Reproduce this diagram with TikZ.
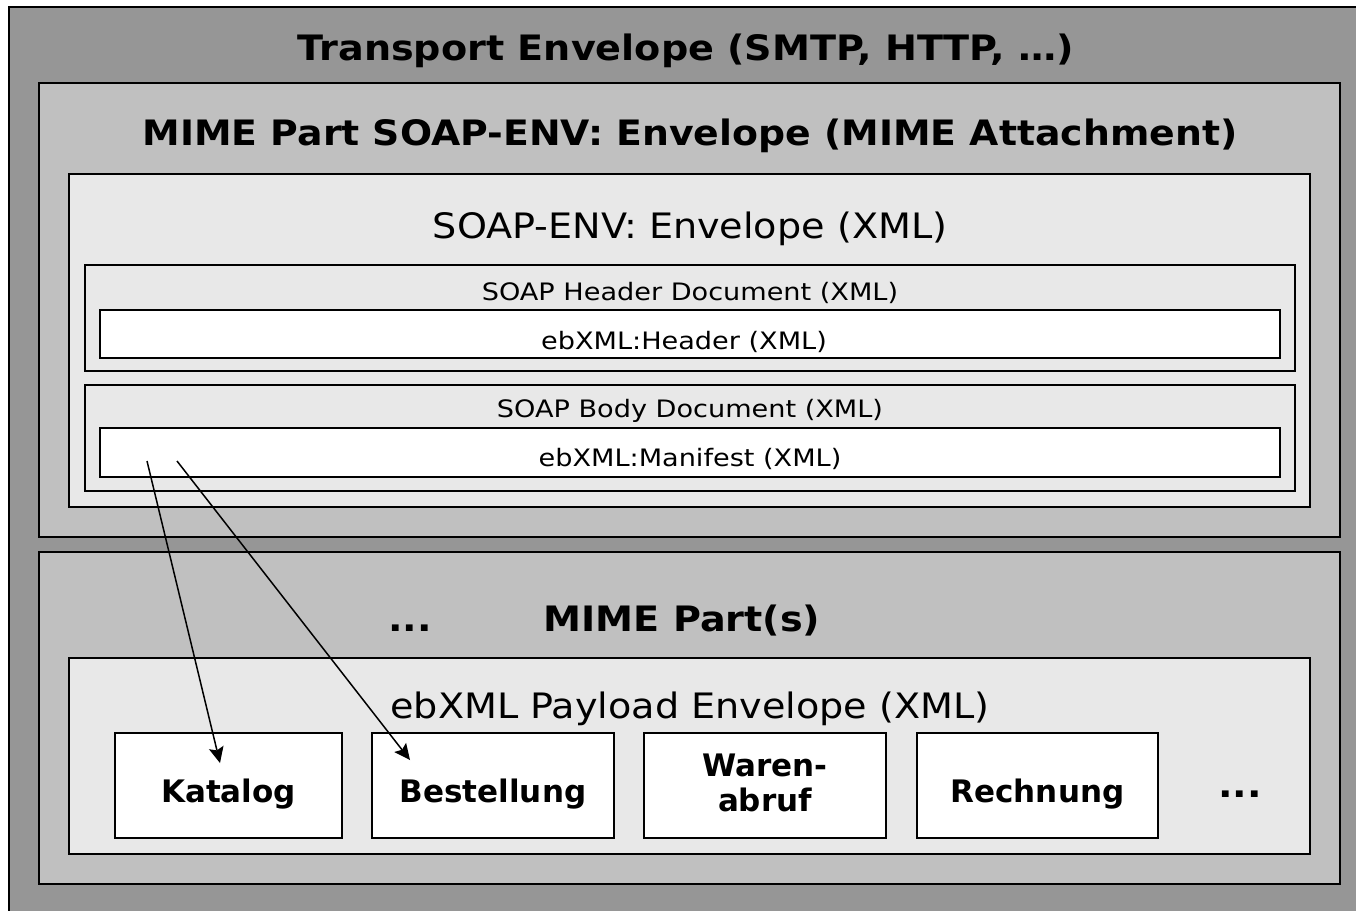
\documentclass[tikz,border=0pt]{standalone}
\usepackage{fontspec}
\setmainfont{DejaVu Sans}
\newfontfamily\titlefont[FakeStretch=1.09]{DejaVu Sans}
\newfontfamily\bodyfont[FakeStretch=1.09]{DejaVu Sans}
\newfontfamily\smallfont[FakeStretch=1.13]{DejaVu Sans}
\usetikzlibrary{arrows.meta}
\definecolor{outergray}{HTML}{969696}
\definecolor{midgray}{HTML}{C0C0C0}
\definecolor{lightgray}{HTML}{E8E8E8}
\tikzset{
  panel/.style={draw=black, line width=2pt, anchor=north west, inner sep=0pt, outer sep=0pt},
  lbl/.style={anchor=base, inner sep=0pt, text=black},
  bigbold/.style={lbl, font=\titlefont\fontsize{35}{40}\selectfont\bfseries},
  bigtext/.style={lbl, font=\bodyfont\fontsize{35}{40}\selectfont},
  smalltext/.style={lbl, font=\smallfont\fontsize{24}{28}\selectfont},
  itemtext/.style={lbl, font=\fontsize{31}{35}\selectfont\bfseries},
  link/.style={draw=black, line width=1.5pt,
    -{Stealth[length=16pt, width=15pt, inset=3pt, line width=0pt]}}
}
\newcommand{\panelbox}[6]{%
  \node[panel, fill=#2, minimum width=#5pt, minimum height=#6pt] (#1) at (#3,-#4) {};}
\begin{document}
\begin{tikzpicture}[x=1pt, y=1pt]
  \useasboundingbox (0,0) rectangle (1356,-910);
  \fill[white] (0,0) rectangle (1356,-910);

  % transport envelope
  \panelbox{transport}{outergray}{9}{7}{1380}{940}
  \node[bigbold] (transportT) at (686,-60) {Transport Envelope (SMTP, HTTP, …)};

  % first MIME part: SOAP envelope
  \panelbox{mime1}{midgray}{39}{83}{1301}{454}
  \node[bigbold] (mime1T) at (690,-145) {\addfontfeature{FakeStretch=1.08}MIME Part SOAP-ENV: Envelope (MIME Attachment)};

  \panelbox{soapenv}{lightgray}{69}{174}{1241}{333}
  \node[bigtext] (soapenvT) at (690,-238) {SOAP-ENV: Envelope (XML)};

  \panelbox{hdrdoc}{lightgray}{85}{265}{1210}{106}
  \node[smalltext] (hdrdocT) at (690,-300) {SOAP Header Document (XML)};
  \panelbox{hdr}{white}{100}{310}{1180}{48}
  \node[smalltext] (hdrT) at (684,-349) {ebXML:Header (XML)};

  \panelbox{bodydoc}{lightgray}{85}{385}{1210}{106}
  \node[smalltext] (bodydocT) at (690,-417) {SOAP Body Document (XML)};
  \panelbox{manifest}{white}{100}{428}{1180}{49}
  \node[smalltext] (manifestT) at (690,-466) {ebXML:Manifest (XML)};

  % further MIME parts: payloads
  \panelbox{mime2}{midgray}{39}{552}{1301}{332}
  \node[bigbold] (dotsA) at (410,-631) {...};
  \node[bigbold] (mime2T) at (682,-631) {MIME Part(s)};

  \panelbox{payload}{lightgray}{69}{658}{1241}{196}
  \node[bigtext] (payloadT) at (690,-718) {ebXML Payload Envelope (XML)};

  \panelbox{katalog}{white}{115}{733}{227}{105}
  \node[itemtext] (katalogT) at (228.5,-802) {Katalog};
  \panelbox{bestellung}{white}{372}{733}{242}{105}
  \node[itemtext] (bestellungT) at (493,-802) {Bestellung};
  \panelbox{warenabruf}{white}{644}{733}{242}{105}
  \node[itemtext] (warenabrufT1) at (765,-776) {Waren-};
  \node[itemtext] (warenabrufT2) at (765,-811) {abruf};
  \panelbox{rechnung}{white}{917}{733}{241}{105}
  \node[itemtext] (rechnungT) at (1037.5,-802) {Rechnung};
  \node[bigbold] (dotsB) at (1240,-797) {...};

  % manifest references into the payloads
  \coordinate (refA) at (147,-461);
  \coordinate (refB) at (177,-461);
  \coordinate (tipA) at (220,-763);
  \coordinate (tipB) at (410,-760);
  \draw[link] (refA) -- (tipA);
  \draw[link] (refB) -- (tipB);
\end{tikzpicture}
\end{document}
